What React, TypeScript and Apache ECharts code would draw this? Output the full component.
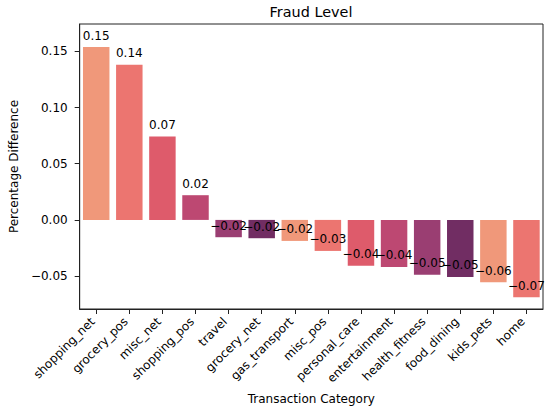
import React, { useEffect, useRef } from "react";
import * as echarts from "echarts";

const categories = [
  "shopping_net", "grocery_pos", "misc_net", "shopping_pos", "travel", "grocery_net",
  "gas_transport", "misc_pos", "personal_care", "entertainment", "health_fitness",
  "food_dining", "kids_pets", "home",
];
const values = [
  0.1539, 0.1381, 0.0742, 0.0220, -0.0154, -0.0163, -0.0187, -0.0276, -0.0407,
  -0.0419, -0.0488, -0.0508, -0.0555, -0.0689,
];
const palette = ["#f0987a", "#ec7570", "#de5b6b", "#bd4872", "#9a3e72", "#712d63"];
const yTicks = [-0.05, 0, 0.05, 0.1, 0.15];
const yMin = -0.0793;
const yMax = 0.1744;

const FONT = "DejaVu Sans";
const FS = 12;
const fmt = (v: number) => v.toFixed(2).replace("-", "\u2212");

export default function App() {
  const ref = useRef<HTMLDivElement>(null);
  useEffect(() => {
    document.body.style.margin = "0";
    const chart = echarts.init(ref.current!, null, { renderer: "svg" });
    chart.setOption({
      animation: false,
      backgroundColor: "#ffffff",
      textStyle: { fontFamily: FONT },
      title: {
        text: "Fraud Level",
        left: 306,
        top: 0,
        textAlign: "center",
        textStyle: { fontFamily: FONT, fontSize: 14.4, fontWeight: "normal", color: "#000" },
      },
      grid: {
        left: 69, right: 7, top: 24, bottom: 102,
        show: true, borderColor: "#222", borderWidth: 1, backgroundColor: "transparent",
      },
      xAxis: {
        type: "category",
        data: categories,
        name: "Transaction Category",
        nameLocation: "middle",
        nameGap: 84,
        nameTextStyle: { fontFamily: FONT, fontSize: FS, color: "#000", verticalAlign: "top" },
        axisLine: { show: true, onZero: false, lineStyle: { color: "#222", width: 1 } },
        axisTick: { show: true, alignWithLabel: true, length: 5, lineStyle: { color: "#222" } },
        axisLabel: {
          rotate: 45, interval: 0, margin: 7, padding: [0, 5, 0, 0],
          fontFamily: FONT, fontSize: FS, color: "#000",
        },
        splitLine: { show: false },
      },
      yAxis: {
        type: "value",
        min: yMin,
        max: yMax,
        name: "Percentage Difference",
        nameLocation: "middle",
        nameGap: 51,
        nameRotate: 90,
        nameTextStyle: { fontFamily: FONT, fontSize: FS, color: "#000" },
        axisLine: { show: true, lineStyle: { color: "#222", width: 1 } },
        axisTick: { show: true, length: 5, lineStyle: { color: "#222" }, customValues: yTicks },
        axisLabel: {
          fontFamily: FONT, fontSize: FS, color: "#000", margin: 12,
          customValues: yTicks,
          formatter: (v: number) => fmt(v),
        },
        splitLine: { show: false },
      },
      series: [
        {
          type: "bar",
          barCategoryGap: "20%",
          data: values.map((v, i) => ({ value: v, itemStyle: { color: palette[i % palette.length] } })),
        },
        {
          type: "scatter",
          symbolSize: 0,
          silent: true,
          z: 5,
          itemStyle: { opacity: 1 },
          data: values,
          label: {
            show: true,
            position: "inside",
            offset: [0, -11.5],
            fontFamily: FONT,
            fontSize: FS,
            color: "#000",
            opacity: 1,
            textBorderWidth: 0,
            formatter: (p: any) => fmt(p.value),
          },
        },
      ],
    });
    return () => chart.dispose();
  }, []);
  return <div ref={ref} style={{ width: 550, height: 411 }} />;
}
